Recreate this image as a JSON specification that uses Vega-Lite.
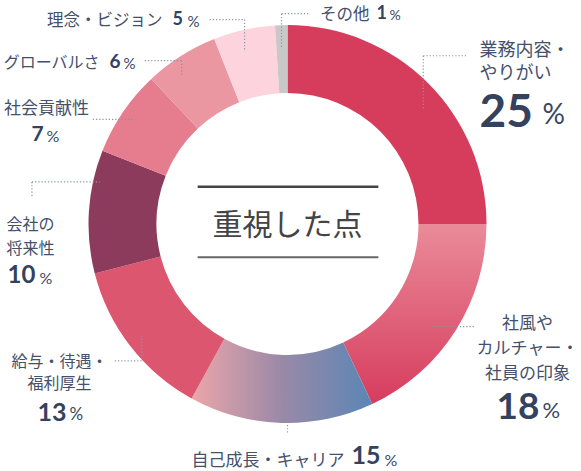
{
  "$schema": "https://vega.github.io/schema/vega-lite/v6.json",
  "width": 581,
  "height": 471,
  "autosize": {"type": "fit", "contains": "padding"},
  "padding": {"left": 0, "top": 0, "right": 5, "bottom": 13},
  "background": "white",
  "config": {"view": {"stroke": null}},
  "datasets": {
    "reasons": [
      {"reason": "業務内容・やりがい", "label": "業務内容・\nやりがい", "pct": 25},
      {"reason": "社風やカルチャー・社員の印象", "label": "社風や\nカルチャー・\n社員の印象", "pct": 18},
      {"reason": "自己成長・キャリア", "label": "自己成長・キャリア", "pct": 15},
      {"reason": "給与・待遇・福利厚生", "label": "給与・待遇・\n福利厚生", "pct": 13},
      {"reason": "会社の将来性", "label": "会社の\n将来性", "pct": 10},
      {"reason": "社会貢献性", "label": "社会貢献性", "pct": 7},
      {"reason": "グローバルさ", "label": "グローバルさ", "pct": 6},
      {"reason": "理念・ビジョン", "label": "理念・ビジョン", "pct": 5},
      {"reason": "その他", "label": "その他", "pct": 1}
    ]
  },
  "layer": [
    {
      "data": {"name": "reasons"},
      "mark": {"type": "arc", "outerRadius": 199, "innerRadius": 131, "strokeWidth": 0},
      "encoding": {
        "theta": {"field": "pct", "type": "quantitative", "stack": true},
        "order": {"field": "pct", "sort": "descending"},
        "color": {
          "condition": [
            {"test": "datum.pct === 18", "value": {"gradient": "linear", "x1": 0, "y1": 0, "x2": 0, "y2": 1, "stops": [{"offset": 0, "color": "#ea8b99"}, {"offset": 1, "color": "#d63c5e"}]}},
            {"test": "datum.pct === 15", "value": {"gradient": "linear", "x1": 0, "y1": 0, "x2": 1, "y2": 0, "stops": [{"offset": 0, "color": "#eba6aa"}, {"offset": 0.5, "color": "#9a89a7"}, {"offset": 1, "color": "#5a86b5"}]}}
          ],
          "field": "reason",
          "type": "nominal",
          "legend": null,
          "scale": {
            "domain": ["業務内容・やりがい", "社風やカルチャー・社員の印象", "自己成長・キャリア", "給与・待遇・福利厚生", "会社の将来性", "社会貢献性", "グローバルさ", "理念・ビジョン", "その他"],
            "range": ["#d63d5c", "#e06a80", "#8f89a8", "#db566e", "#8c3b5c", "#e67d8f", "#ea97a1", "#fdd4de", "#c8c8c8"]
          }
        }
      }
    },
    {"data": {"values": [{}]}, "mark": {"type": "rule", "color": "#8c93a6", "strokeWidth": 1.2, "strokeDash": [1.2, 2]},
     "encoding": {"x": {"datum": 0.4722, "type": "quantitative", "scale": {"domain": [-1, 1], "nice": false}, "axis": null}, "x2": {"datum": 0.625}, "y": {"datum": 0.7511, "type": "quantitative", "scale": {"domain": [-1, 1], "nice": false}, "axis": null}}},
    {"data": {"values": [{}]}, "mark": {"type": "rule", "color": "#8c93a6", "strokeWidth": 1.2, "strokeDash": [1.2, 2]},
     "encoding": {"x": {"datum": 0.4722, "type": "quantitative", "scale": {"domain": [-1, 1], "nice": false}, "axis": null}, "y": {"datum": 0.7511, "type": "quantitative", "scale": {"domain": [-1, 1], "nice": false}, "axis": null}, "y2": {"datum": 0.5109}}},
    {"data": {"values": [{}]}, "mark": {"type": "rule", "color": "#8c93a6", "strokeWidth": 1.2, "strokeDash": [1.2, 2]},
     "encoding": {"x": {"datum": 0.5104, "type": "quantitative", "scale": {"domain": [-1, 1], "nice": false}, "axis": null}, "x2": {"datum": 0.6493}, "y": {"datum": -0.4585, "type": "quantitative", "scale": {"domain": [-1, 1], "nice": false}, "axis": null}}},
    {"data": {"values": [{}]}, "mark": {"type": "rule", "color": "#8c93a6", "strokeWidth": 1.2, "strokeDash": [1.2, 2]},
     "encoding": {"x": {"datum": 0, "type": "quantitative", "scale": {"domain": [-1, 1], "nice": false}, "axis": null}, "y": {"datum": -0.7686, "type": "quantitative", "scale": {"domain": [-1, 1], "nice": false}, "axis": null}, "y2": {"datum": -0.9345}}},
    {"data": {"values": [{}]}, "mark": {"type": "rule", "color": "#8c93a6", "strokeWidth": 1.2, "strokeDash": [1.2, 2]},
     "encoding": {"x": {"datum": -0.5069, "type": "quantitative", "scale": {"domain": [-1, 1], "nice": false}, "axis": null}, "y": {"datum": -0.4978, "type": "quantitative", "scale": {"domain": [-1, 1], "nice": false}, "axis": null}, "y2": {"datum": -0.6114}}},
    {"data": {"values": [{}]}, "mark": {"type": "rule", "color": "#8c93a6", "strokeWidth": 1.2, "strokeDash": [1.2, 2]},
     "encoding": {"x": {"datum": -0.6007, "type": "quantitative", "scale": {"domain": [-1, 1], "nice": false}, "axis": null}, "x2": {"datum": -0.5069}, "y": {"datum": -0.6114, "type": "quantitative", "scale": {"domain": [-1, 1], "nice": false}, "axis": null}}},
    {"data": {"values": [{}]}, "mark": {"type": "rule", "color": "#8c93a6", "strokeWidth": 1.2, "strokeDash": [1.2, 2]},
     "encoding": {"x": {"datum": -0.8889, "type": "quantitative", "scale": {"domain": [-1, 1], "nice": false}, "axis": null}, "x2": {"datum": -0.6528}, "y": {"datum": 0.1878, "type": "quantitative", "scale": {"domain": [-1, 1], "nice": false}, "axis": null}}},
    {"data": {"values": [{}]}, "mark": {"type": "rule", "color": "#8c93a6", "strokeWidth": 1.2, "strokeDash": [1.2, 2]},
     "encoding": {"x": {"datum": -0.8889, "type": "quantitative", "scale": {"domain": [-1, 1], "nice": false}, "axis": null}, "y": {"datum": 0.1878, "type": "quantitative", "scale": {"domain": [-1, 1], "nice": false}, "axis": null}, "y2": {"datum": 0.1179}}},
    {"data": {"values": [{}]}, "mark": {"type": "rule", "color": "#8c93a6", "strokeWidth": 1.2, "strokeDash": [1.2, 2]},
     "encoding": {"x": {"datum": -0.6771, "type": "quantitative", "scale": {"domain": [-1, 1], "nice": false}, "axis": null}, "x2": {"datum": -0.5313}, "y": {"datum": 0.4672, "type": "quantitative", "scale": {"domain": [-1, 1], "nice": false}, "axis": null}}},
    {"data": {"values": [{}]}, "mark": {"type": "rule", "color": "#8c93a6", "strokeWidth": 1.2, "strokeDash": [1.2, 2]},
     "encoding": {"x": {"datum": -0.4965, "type": "quantitative", "scale": {"domain": [-1, 1], "nice": false}, "axis": null}, "x2": {"datum": -0.3681}, "y": {"datum": 0.7293, "type": "quantitative", "scale": {"domain": [-1, 1], "nice": false}, "axis": null}}},
    {"data": {"values": [{}]}, "mark": {"type": "rule", "color": "#8c93a6", "strokeWidth": 1.2, "strokeDash": [1.2, 2]},
     "encoding": {"x": {"datum": -0.3681, "type": "quantitative", "scale": {"domain": [-1, 1], "nice": false}, "axis": null}, "y": {"datum": 0.7293, "type": "quantitative", "scale": {"domain": [-1, 1], "nice": false}, "axis": null}, "y2": {"datum": 0.6638}}},
    {"data": {"values": [{}]}, "mark": {"type": "rule", "color": "#8c93a6", "strokeWidth": 1.2, "strokeDash": [1.2, 2]},
     "encoding": {"x": {"datum": -0.2708, "type": "quantitative", "scale": {"domain": [-1, 1], "nice": false}, "axis": null}, "x2": {"datum": -0.1493}, "y": {"datum": 0.9127, "type": "quantitative", "scale": {"domain": [-1, 1], "nice": false}, "axis": null}}},
    {"data": {"values": [{}]}, "mark": {"type": "rule", "color": "#8c93a6", "strokeWidth": 1.2, "strokeDash": [1.2, 2]},
     "encoding": {"x": {"datum": -0.1493, "type": "quantitative", "scale": {"domain": [-1, 1], "nice": false}, "axis": null}, "y": {"datum": 0.9127, "type": "quantitative", "scale": {"domain": [-1, 1], "nice": false}, "axis": null}, "y2": {"datum": 0.7686}}},
    {"data": {"values": [{}]}, "mark": {"type": "rule", "color": "#8c93a6", "strokeWidth": 1.2, "strokeDash": [1.2, 2]},
     "encoding": {"x": {"datum": -0.0208, "type": "quantitative", "scale": {"domain": [-1, 1], "nice": false}, "axis": null}, "x2": {"datum": 0.0764}, "y": {"datum": 0.9389, "type": "quantitative", "scale": {"domain": [-1, 1], "nice": false}, "axis": null}}},
    {"data": {"values": [{}]}, "mark": {"type": "rule", "color": "#8c93a6", "strokeWidth": 1.2, "strokeDash": [1.2, 2]},
     "encoding": {"x": {"datum": -0.0208, "type": "quantitative", "scale": {"domain": [-1, 1], "nice": false}, "axis": null}, "y": {"datum": 0.9389, "type": "quantitative", "scale": {"domain": [-1, 1], "nice": false}, "axis": null}, "y2": {"datum": 0.7817}}},
    {
      "data": {"name": "reasons"},
      "mark": {
        "type": "text",
        "radius": 240,
        "baseline": "middle",
        "lineBreak": "\n",
        "font": "Noto Sans CJK JP",
        "color": "#45506b",
        "dx": {"expr": "[22.3, 37.4, 64.5, -38.4, -41.5, -42.5, -59.4, -72.6, 89.5][indexof([25,18,15,13,10,7,6,5,1], datum.pct)]"},
        "dy": {"expr": "[-3.5, -28.5, -2.5, -9, 16.5, 20, 42, 31.5, 31][indexof([25,18,15,13,10,7,6,5,1], datum.pct)]"},
        "align": {"expr": "['left','center','right','center','left','center','right','right','right'][indexof([25,18,15,13,10,7,6,5,1], datum.pct)]"},
        "fontSize": {"expr": "[18, 17, 17, 16, 16, 17, 16, 16.5, 16.5][indexof([25,18,15,13,10,7,6,5,1], datum.pct)]"},
        "lineHeight": {"expr": "[23, 25, 22, 22, 24, 22, 22, 22, 22][indexof([25,18,15,13,10,7,6,5,1], datum.pct)]"}
      },
      "encoding": {
        "theta": {"field": "pct", "type": "quantitative", "stack": true},
        "order": {"field": "pct", "sort": "descending"},
        "text": {"field": "label", "type": "nominal"}
      }
    },
    {
      "data": {"name": "reasons"},
      "mark": {
        "type": "text",
        "radius": 240,
        "baseline": "middle",
        "align": "left",
        "font": "Lato",
        "fontWeight": "bold",
        "color": "#34425e",
        "dx": {"expr": "[22.3, 6.4, 71.5, -60.4, -40.5, -57.5, -49.4, -62.6, 96.5][indexof([25,18,15,13,10,7,6,5,1], datum.pct)]"},
        "dy": {"expr": "[59, 55.5, -7.5, 41.5, 67.5, 46, 40.5, 30, 30][indexof([25,18,15,13,10,7,6,5,1], datum.pct)]"},
        "fontSize": {"expr": "[46, 37, 25, 25, 24, 21, 19, 18, 18][indexof([25,18,15,13,10,7,6,5,1], datum.pct)]"}
      },
      "encoding": {
        "theta": {"field": "pct", "type": "quantitative", "stack": true},
        "order": {"field": "pct", "sort": "descending"},
        "text": {"field": "pct", "type": "quantitative"}
      }
    },
    {
      "data": {"name": "reasons"},
      "mark": {
        "type": "text",
        "radius": 240,
        "baseline": "middle",
        "align": "left",
        "font": "Lato",
        "color": "#3a4763",
        "dx": {"expr": "[85.3, 52.4, 104.5, -28.4, -8.5, -42.5, -35.4, -47.6, 109.5][indexof([25,18,15,13,10,7,6,5,1], datum.pct)]"},
        "dy": {"expr": "[62, 58.5, -3, 44, 70, 48, 42.5, 32, 31.5][indexof([25,18,15,13,10,7,6,5,1], datum.pct)]"},
        "fontSize": {"expr": "[28, 22, 16, 17, 16, 16, 15, 15, 14][indexof([25,18,15,13,10,7,6,5,1], datum.pct)]"}
      },
      "encoding": {
        "theta": {"field": "pct", "type": "quantitative", "stack": true},
        "order": {"field": "pct", "sort": "descending"},
        "text": {"value": "%"}
      }
    },
    {
      "data": {"values": [{"title": "重視した点"}]},
      "mark": {"type": "text", "font": "Noto Sans CJK JP", "fontSize": 30, "color": "#444444", "baseline": "middle", "align": "center", "dy": 1.5},
      "encoding": {"text": {"field": "title", "type": "nominal"}}
    },
    {
      "data": {"values": [{}]},
      "mark": {"type": "rule", "color": "#444444", "strokeWidth": 2.5},
      "encoding": {
        "x": {"datum": -0.3125, "type": "quantitative", "scale": {"domain": [-1, 1], "nice": false}, "axis": null},
        "x2": {"datum": 0.316},
        "y": {"datum": 0.166, "type": "quantitative", "scale": {"domain": [-1, 1], "nice": false}, "axis": null}
      }
    },
    {
      "data": {"values": [{}]},
      "mark": {"type": "rule", "color": "#666666", "strokeWidth": 2},
      "encoding": {
        "x": {"datum": -0.3125, "type": "quantitative", "scale": {"domain": [-1, 1], "nice": false}, "axis": null},
        "x2": {"datum": 0.316},
        "y": {"datum": -0.148, "type": "quantitative", "scale": {"domain": [-1, 1], "nice": false}, "axis": null}
      }
    }
  ]
}
